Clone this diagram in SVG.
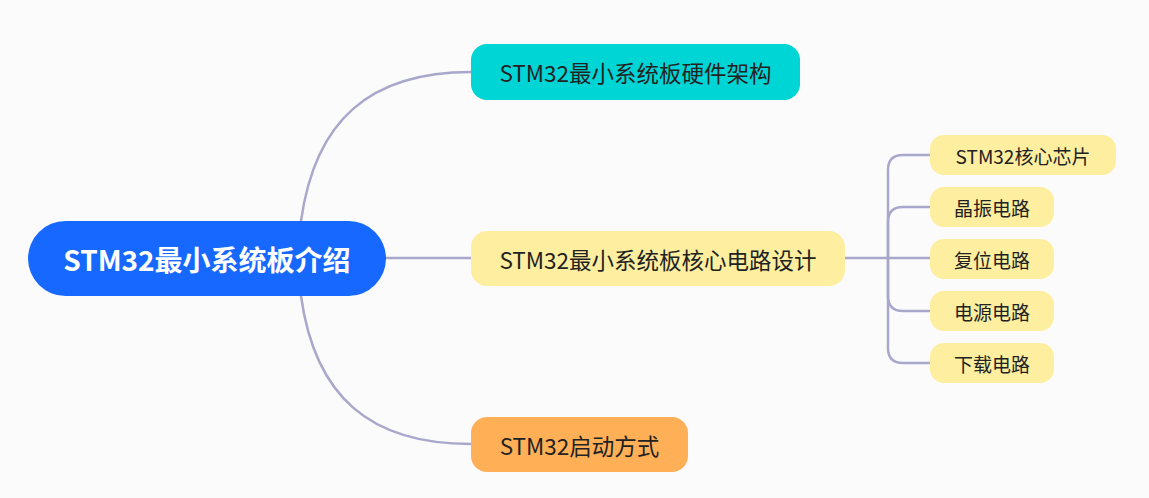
<svg xmlns="http://www.w3.org/2000/svg" width="1149" height="498" viewBox="0 0 1149 498">
<style>
.t{font-family:"Noto Sans CJK SC","Noto Sans",sans-serif;text-anchor:middle;dominant-baseline:central;fill:#222}
.c{fill:none;stroke:#a9a8cc;stroke-width:2.5;stroke-linecap:round}
.y{fill:#fdef9f}
</style>
<rect width="1149" height="498" fill="#fbfbfb"/>
<g id="connectors">
<path class="c" d="M301,221 C315,120 370,72 471,72"/>
<path class="c" d="M386,258 H471"/>
<path class="c" d="M301,296 C315,397 370,444 471,444"/>
<path class="c" d="M845,258 H930"/>
<path class="c" d="M888,258 V170 Q888,155 903,155 H930"/>
<path class="c" d="M888,258 V222 Q888,207 903,207 H930"/>
<path class="c" d="M888,258 V296 Q888,311 903,311 H930"/>
<path class="c" d="M888,258 V348 Q888,363 903,363 H930"/>
</g>
<g id="root">
<rect x="28" y="221" width="358" height="75" rx="37.5" fill="#1668ff"/>
<text class="t" x="207" y="258.5" font-size="28" font-weight="bold" style="fill:#fff">STM32最小系统板介绍</text>
</g>
<g id="n-hw">
<rect x="471" y="44" width="329" height="56" rx="16" fill="#00d5d5"/>
<text class="t" x="635.5" y="72" font-size="22.5">STM32最小系统板硬件架构</text>
</g>
<g id="n-core">
<rect x="471" y="231" width="374" height="55" rx="16" class="y"/>
<text class="t" x="658" y="258.5" font-size="22.5">STM32最小系统板核心电路设计</text>
</g>
<g id="n-boot">
<rect x="471" y="417" width="217" height="55" rx="16" fill="#ffb057"/>
<text class="t" x="579.5" y="444.5" font-size="22.5">STM32启动方式</text>
</g>
<g id="s1">
<rect x="930" y="135" width="186" height="40" rx="14" class="y"/>
<text class="t" x="1023" y="155" font-size="19">STM32核心芯片</text>
</g>
<g id="s2">
<rect x="930" y="187" width="124" height="40" rx="14" class="y"/>
<text class="t" x="992" y="207" font-size="19">晶振电路</text>
</g>
<g id="s3">
<rect x="930" y="239" width="124" height="40" rx="14" class="y"/>
<text class="t" x="992" y="259" font-size="19">复位电路</text>
</g>
<g id="s4">
<rect x="930" y="291" width="124" height="40" rx="14" class="y"/>
<text class="t" x="992" y="311" font-size="19">电源电路</text>
</g>
<g id="s5">
<rect x="930" y="343" width="124" height="40" rx="14" class="y"/>
<text class="t" x="992" y="363" font-size="19">下载电路</text>
</g>
</svg>
